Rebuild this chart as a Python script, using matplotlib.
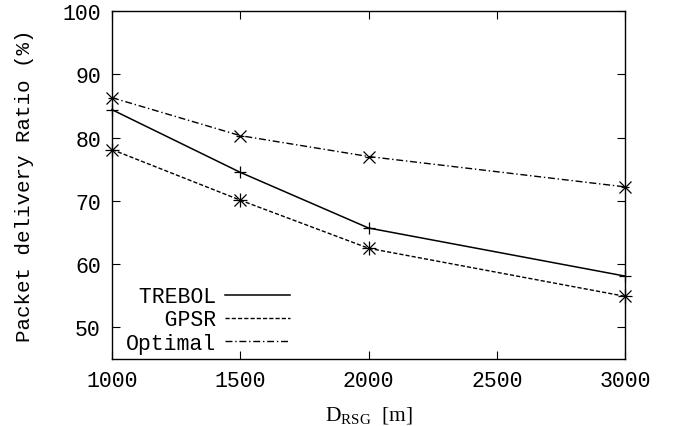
import matplotlib
matplotlib.use('Agg')
from matplotlib import pyplot as plt
from matplotlib.lines import Line2D

# 데이터
d_rsg = [1000, 1500, 2000, 3000]
trebol = [84.4, 74.5, 65.7, 58.1]
gpsr = [78.1, 70.1, 62.5, 54.9]
optimal = [86.3, 80.3, 77.0, 72.2]

plt.rcParams['font.family'] = ['Liberation Mono', 'DejaVu Sans Mono']
plt.rcParams['mathtext.fontset'] = 'custom'
plt.rcParams['mathtext.rm'] = 'Liberation Serif'
plt.rcParams['mathtext.it'] = 'Liberation Serif'

fig = plt.figure(figsize=(6.73, 4.27), dpi=100)
ax = fig.add_axes([0.1664, 0.157, 0.7623, 0.8149])

ax.plot(d_rsg, trebol, color='black', lw=1.1, ls='-', marker='+', ms=9, mew=0.9, clip_on=False)
ax.plot(d_rsg, gpsr, color='black', lw=1.0, ls=(0, (3, 1.5)), marker='x', ms=8, mew=0.9, clip_on=False)
ax.plot(d_rsg, gpsr, color='black', lw=0, marker='+', ms=10, mew=0.9, clip_on=False)
ax.plot(d_rsg, optimal, color='black', lw=1.0, ls=(0, (5, 2, 1, 2)), marker='x', ms=9, mew=0.9, clip_on=False)
ax.plot(d_rsg, optimal, color='black', lw=0, marker='_', ms=6, mew=0.9, clip_on=False)

ax.set_xlim(1000, 3000)
ax.set_ylim(45, 100)
ax.set_xticks([1000, 1500, 2000, 2500, 3000])
ax.set_yticks([50, 60, 70, 80, 90, 100])
ax.tick_params(direction='in', top=True, right=True, length=6, width=0.8, labelsize=15.5, pad=8)
for s in ax.spines.values():
    s.set_linewidth(1.0)

ax.set_ylabel('Packet delivery Ratio (%)', fontsize=15, labelpad=20)
ax.set_xlabel('D$_{\\mathrm{RSG}}$  [m]', fontsize=15.5, family='Liberation Serif', labelpad=9)

handles = [
    Line2D([], [], color='black', lw=1.1, ls='-'),
    Line2D([], [], color='black', lw=1.0, ls=(0, (3, 1.5))),
    Line2D([], [], color='black', lw=1.0, ls=(0, (5, 2, 1, 2))),
]
labels = [' TREBOL', '   GPSR', 'Optimal']
ax.legend(handles, labels, loc='lower left', bbox_to_anchor=(0.014, -0.003),
          frameon=False, markerfirst=False, fontsize=15.5, handlelength=3.0,
          handletextpad=0.45, labelspacing=0.1, borderaxespad=0.0, borderpad=0.3)

plt.savefig('out.png', dpi=100)
